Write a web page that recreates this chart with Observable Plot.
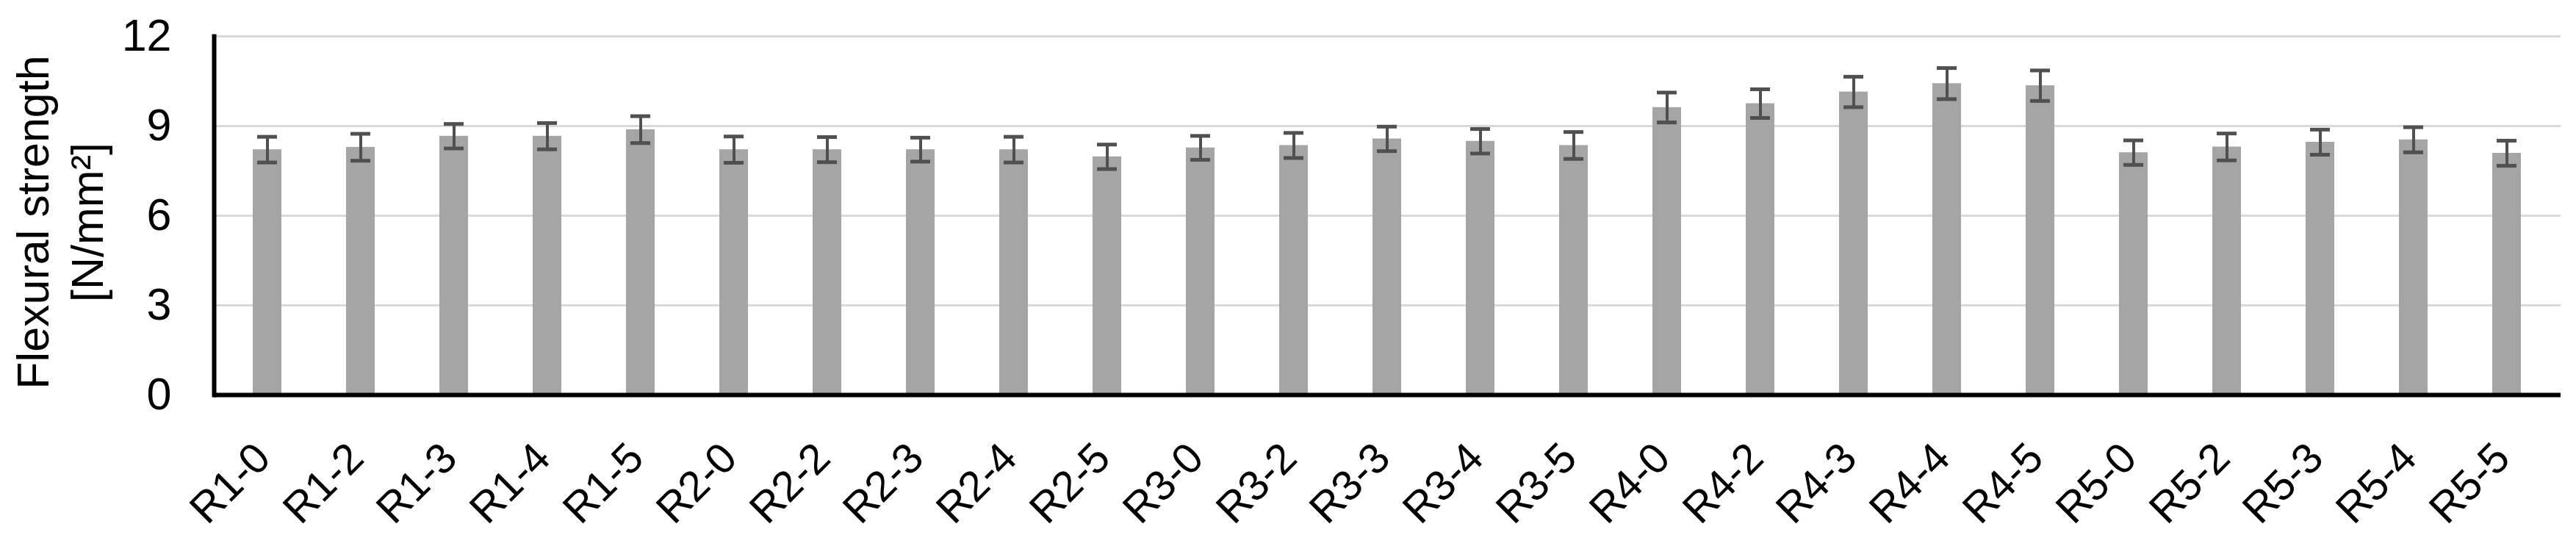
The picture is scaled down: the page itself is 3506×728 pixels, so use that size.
<!DOCTYPE html>
<html>
<head>
<meta charset="utf-8">
<script src="https://cdn.jsdelivr.net/npm/d3@7"></script>
<script src="https://cdn.jsdelivr.net/npm/@observablehq/plot@0.6"></script>
<style>
  html, body { margin: 0; padding: 0; background: #ffffff; }
  #chart { width: 3506px; height: 728px; overflow: hidden; }
</style>
</head>
<body>
<div id="chart"></div>
<script>
// ---- data ----
const categories = ["R1-0","R1-2","R1-3","R1-4","R1-5",
                    "R2-0","R2-2","R2-3","R2-4","R2-5",
                    "R3-0","R3-2","R3-3","R3-4","R3-5",
                    "R4-0","R4-2","R4-3","R4-4","R4-5",
                    "R5-0","R5-2","R5-3","R5-4","R5-5"];
const strength = [8.21, 8.29, 8.66, 8.66, 8.88,
                  8.21, 8.21, 8.21, 8.21, 7.97,
                  8.27, 8.35, 8.57, 8.49, 8.35,
                  9.62, 9.75, 10.14, 10.42, 10.35,
                  8.11, 8.30, 8.46, 8.54, 8.09];
const errorSD = [0.43, 0.45, 0.41, 0.44, 0.45,
                 0.44, 0.42, 0.40, 0.43, 0.41,
                 0.40, 0.42, 0.41, 0.41, 0.45,
                 0.50, 0.48, 0.51, 0.52, 0.51,
                 0.41, 0.45, 0.42, 0.42, 0.42];
const yTicks = [0, 3, 6, 9, 12];
const yLabel = "Flexural strength\n[N/mm²]";

const rows = categories.map((c, i) => ({cat: c, v: strength[i], e: errorSD[i]}));

const errColor = "#505050";

const chart = Plot.plot({
  width: 3506,
  height: 728,
  marginLeft: 291,
  marginRight: 21,
  marginTop: 49,
  marginBottom: 191,
  style: {fontFamily: "'Liberation Sans', Arial, sans-serif", background: "#ffffff", color: "#000000"},
  x: {domain: categories, paddingInner: 0.69, paddingOuter: 0.345, label: null},
  y: {domain: [0, 12], ticks: yTicks, label: null},
  marks: [
    Plot.gridY(yTicks, {stroke: "#d9d9d9", strokeOpacity: 1, strokeWidth: 3}),
    Plot.barY(rows, {x: "cat", y: "v", fill: "#a5a5a5"}),
    Plot.ruleX(rows, {x: "cat", y1: d => d.v - d.e, y2: d => d.v + d.e, stroke: errColor, strokeWidth: 4}),
    Plot.tickY(rows, {x: "cat", y: d => d.v + d.e, insetLeft: 6, insetRight: 6, stroke: errColor, strokeWidth: 5}),
    Plot.tickY(rows, {x: "cat", y: d => d.v - d.e, insetLeft: 6, insetRight: 6, stroke: errColor, strokeWidth: 5}),
    Plot.ruleY([0], {stroke: "#000000", strokeWidth: 6}),
    Plot.frame({anchor: "left", stroke: "#000000", strokeWidth: 6}),
    Plot.axisY(yTicks, {tickSize: 0, tickPadding: 58, fontSize: 61, label: null}),
    Plot.axisX({tickRotate: -45, tickSize: 0, tickPadding: 76, dx: -6, fontSize: 58, label: null}),
    Plot.text([yLabel], {text: d => d, frameAnchor: "left", textAnchor: "middle", rotate: -90,
                         dx: -212, dy: 9, fontSize: 61, lineHeight: 1.2, lineAnchor: "middle",
                         fill: "#000000"})
  ]
});
document.getElementById("chart").appendChild(chart);
</script>
</body>
</html>
